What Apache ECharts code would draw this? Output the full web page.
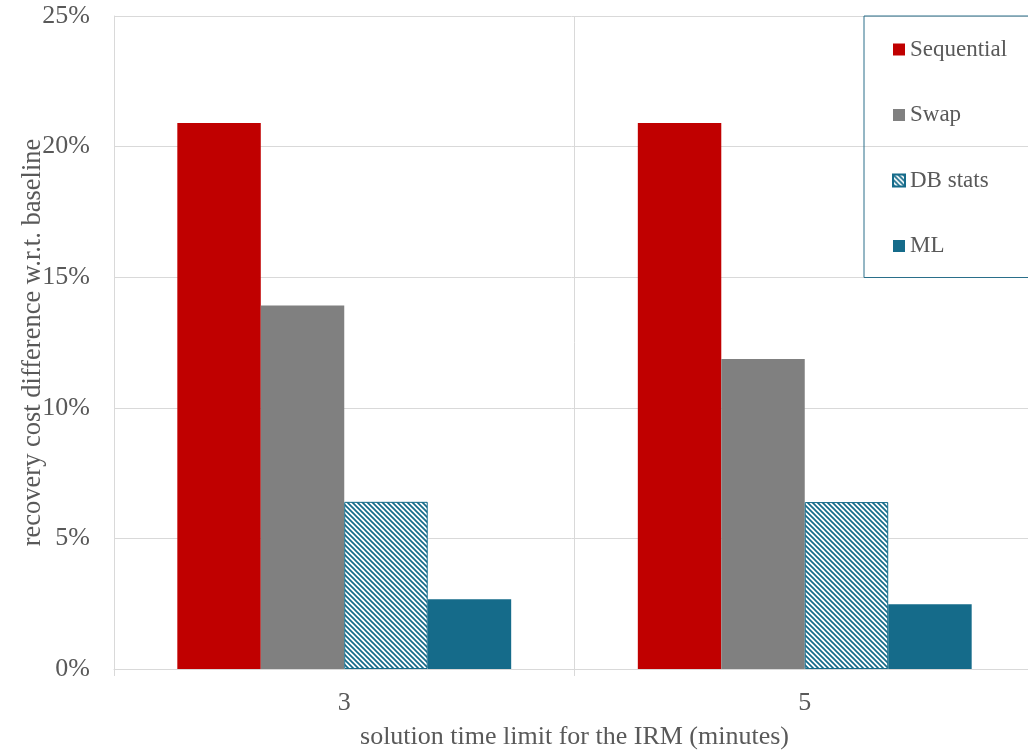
<!DOCTYPE html>
<html>
<head>
<meta charset="utf-8">
<script src="https://cdn.jsdelivr.net/npm/echarts@6/dist/echarts.min.js"></script>
<style>
html,body{margin:0;padding:0;background:#fff;}
#chart{width:1028px;height:753px;}
</style>
</head>
<body>
<div id="chart"></div>
<script>
var categories = ['3', '5'];
var sequential = [20.9, 20.9];
var swap = [13.92, 11.87];
var dbStats = [6.4, 6.39];
var ml = [2.67, 2.48];
var yTicks = [0, 5, 10, 15, 20, 25];

var FONT = '"Liberation Serif", "Times New Roman", serif';
var TEXT = '#595959';
var GRID = '#d9d9d9';
var TEAL = '#156B8A';

function makeHatch() {
  var p = 5;
  var c = document.createElement('canvas');
  c.width = p; c.height = p;
  var g = c.getContext('2d');
  g.fillStyle = '#ffffff';
  g.fillRect(0, 0, p, p);
  g.strokeStyle = TEAL;
  g.lineWidth = 1.7;
  for (var k = -1; k <= 1; k++) {
    g.beginPath();
    g.moveTo(-p, -p + k * p);
    g.lineTo(2 * p, 2 * p + k * p);
    g.stroke();
  }
  return c;
}

var chart = echarts.init(document.getElementById('chart'), null, {renderer: 'canvas'});
var option = {
  animation: false,
  backgroundColor: '#ffffff',
  grid: {left: 114, top: 16, width: 921, bottom: 84, containLabel: false, outerBoundsMode: 'none'},
  legend: {
    orient: 'vertical',
    left: 864,
    top: 16,
    itemWidth: 12,
    itemHeight: 12,
    itemGap: 42.5,
    padding: [22, 200, 20, 28],
    borderColor: '#2a6f8a',
    borderWidth: 1,
    icon: 'rect',
    textStyle: {fontFamily: FONT, fontSize: 23, color: TEXT, lineHeight: 23},
    data: ['Sequential', 'Swap', 'DB stats', 'ML']
  },
  xAxis: {
    type: 'category',
    data: categories,
    name: 'solution time limit for the IRM (minutes)',
    nameLocation: 'middle',
    nameGap: 55,
    nameMoveOverlap: false,
    nameTextStyle: {fontFamily: FONT, fontSize: 26, color: TEXT},
    axisLine: {show: true, lineStyle: {color: GRID, width: 1}},
    axisTick: {show: true, length: 7, lineStyle: {color: GRID}},
    axisLabel: {fontFamily: FONT, fontSize: 26, color: TEXT, margin: 21},
    splitLine: {show: true, lineStyle: {color: GRID, width: 1}}
  },
  yAxis: {
    type: 'value',
    min: yTicks[0],
    max: yTicks[yTicks.length - 1],
    interval: yTicks[1] - yTicks[0],
    name: 'recovery cost difference w.r.t. baseline',
    nameLocation: 'middle',
    nameGap: 67,
    nameMoveOverlap: false,
    nameTextStyle: {fontFamily: FONT, fontSize: 26.5, color: TEXT},
    axisLine: {show: true, lineStyle: {color: GRID, width: 1}},
    axisTick: {show: false},
    axisLabel: {fontFamily: FONT, fontSize: 26, color: TEXT, margin: 24, formatter: '{value}%'},
    splitLine: {show: true, lineStyle: {color: GRID, width: 1}}
  },
  series: [
    {name: 'Sequential', type: 'bar', data: sequential, barGap: '0%', barCategoryGap: '27.5%',
     itemStyle: {color: '#C00000'}},
    {name: 'Swap', type: 'bar', data: swap, itemStyle: {color: '#808080'}},
    {name: 'DB stats', type: 'bar', data: dbStats,
     itemStyle: {color: {image: makeHatch(), repeat: 'repeat'}, borderColor: TEAL, borderWidth: 1}},
    {name: 'ML', type: 'bar', data: ml, itemStyle: {color: TEAL}}
  ]
};
chart.setOption(option);
</script>
</body>
</html>
